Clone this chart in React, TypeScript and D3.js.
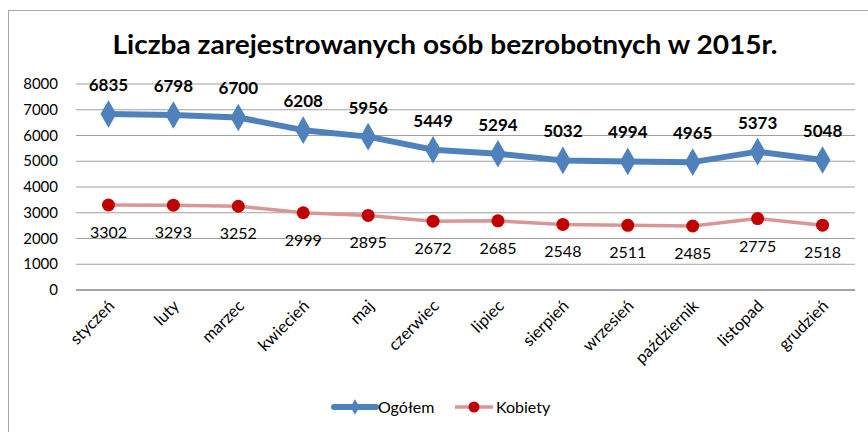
import React from "react";
import * as d3 from "d3";

const months = ["styczeń","luty","marzec","kwiecień","maj","czerwiec","lipiec","sierpień","wrzesień","październik","listopad","grudzień"];
const ogolem = [6835,6798,6700,6208,5956,5449,5294,5032,4994,4965,5373,5048];
const kobiety = [3302,3293,3252,2999,2895,2672,2685,2548,2511,2485,2775,2518];
const yTicks = [0,1000,2000,3000,4000,5000,6000,7000,8000];
const title = "Liczba zarejestrowanych osób bezrobotnych w 2015r.";
const seriesNames = ["Ogółem","Kobiety"];

const W = 868, H = 432;
const FONT = "Lato, 'Noto Sans', sans-serif";

export default function App() {
  const x = d3.scaleBand<string>().domain(months).range([76, 855]);
  const y = d3.scaleLinear().domain([0, 8000]).range([290, 84]);
  const cx = (m: string) => (x(m) ?? 0) + x.bandwidth() / 2;
  const lineO = d3.line<number>().x((_, i) => cx(months[i])).y(d => y(d));
  const diamond = d3.symbol().type(d3.symbolDiamond).size(220);
  return (
    <svg width={W} height={H} style={{ position: "absolute", left: 0, top: 0, background: "#fff" }} fontFamily={FONT}>
      <rect x={8.5} y={10.5} width={W} height={H} fill="#fff" stroke="#a6a6a6" />
      <text x={445} y={54} textAnchor="middle" fontSize={26} fontWeight="bold" fill="#000" textLength={665} lengthAdjust="spacingAndGlyphs">{title}</text>
      {yTicks.map(t => (
        <g key={t}>
          <line x1={76} x2={855} y1={y(t)} y2={y(t)} stroke={t === 0 ? "#868686" : "#a0a0a0"} strokeWidth={t === 0 ? 1.5 : 1} />
          <text x={58} y={y(t) + 5} textAnchor="end" fontSize={15} fill="#000">{t}</text>
        </g>
      ))}
      {months.map(m => (
        <text key={m} transform={`translate(${cx(m) + 7},${307}) rotate(-45)`} textAnchor="end" fontSize={16.5} fill="#000">{m}</text>
      ))}
      <path d={lineO(kobiety) ?? ""} fill="none" stroke="#D99694" strokeWidth={3.5} />
      {kobiety.map((v, i) => (
        <g key={i}>
          <circle cx={cx(months[i])} cy={y(v)} r={6.5} fill="#C00000" />
          <text x={cx(months[i])} y={y(v) + 33} textAnchor="middle" fontSize={16} fill="#000">{v}</text>
        </g>
      ))}
      <path d={lineO(ogolem) ?? ""} fill="none" stroke="#4F81BD" strokeWidth={6} strokeLinejoin="round" />
      {ogolem.map((v, i) => (
        <g key={i}>
          <path d={diamond() ?? ""} transform={`translate(${cx(months[i])},${y(v)})`} fill="#4F81BD" />
          <text x={cx(months[i])} y={y(v) - 23} textAnchor="middle" fontSize={17} fontWeight="bold" fill="#000">{v}</text>
        </g>
      ))}
      <g>
        <line x1={334} x2={376} y1={407} y2={407} stroke="#4F81BD" strokeWidth={6} strokeLinecap="round" />
        <path d={d3.symbol().type(d3.symbolDiamond).size(70)() ?? ""} transform="translate(355,407)" fill="#4F81BD" />
        <text x={378} y={412.5} fontSize={16} fill="#000">{seriesNames[0]}</text>
        <line x1={455} x2={493} y1={407} y2={407} stroke="#D99694" strokeWidth={3.5} />
        <circle cx={474} cy={407} r={5.5} fill="#C00000" />
        <text x={496} y={412.5} fontSize={16} fill="#000">{seriesNames[1]}</text>
      </g>
    </svg>
  );
}
